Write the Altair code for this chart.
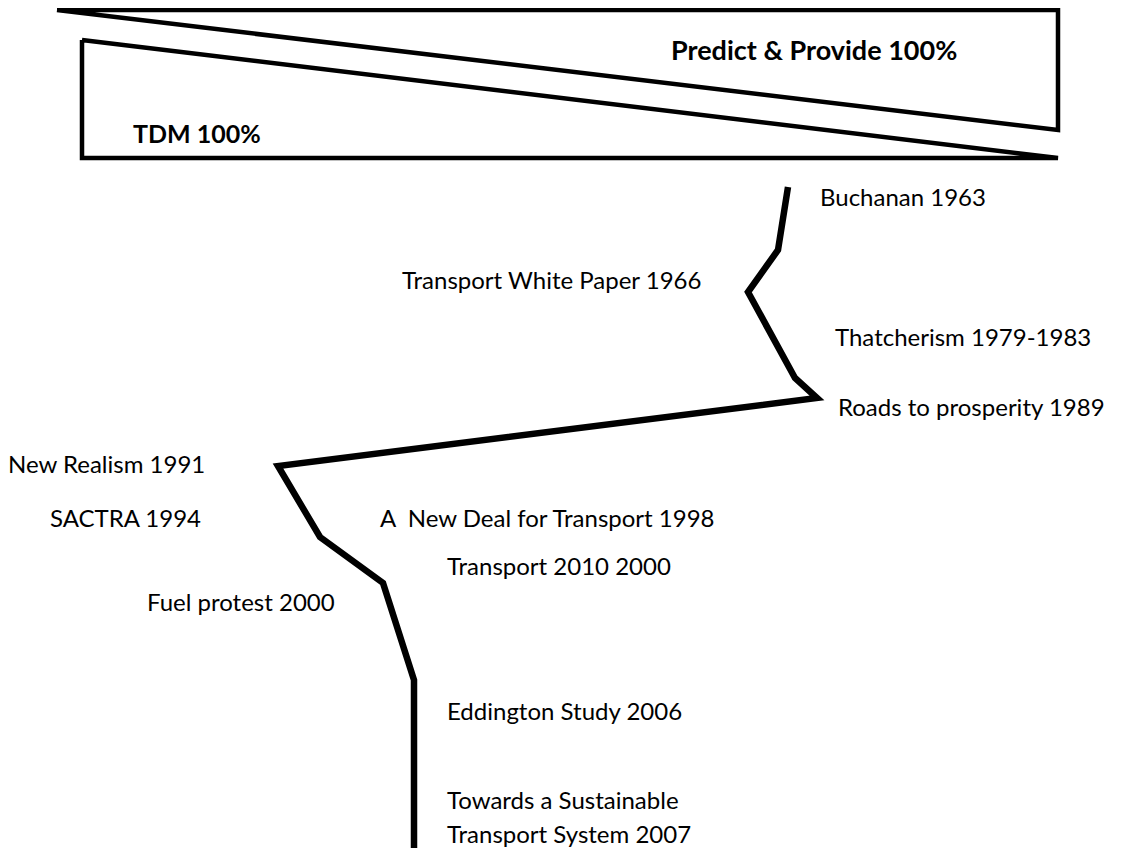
import altair as alt
import pandas as pd

# picture coordinates (pixels of the reference)
upper_x = [57, 1058, 1058, 57]
upper_y = [10, 10, 130, 10]
lower_x = [82, 82, 1058, 82]
lower_y = [40, 158, 158, 40]

path_x = [788, 778, 748, 795, 817, 278, 320, 383, 414, 414]
path_y = [187, 250, 292, 378, 398, 466, 537, 583, 680, 856]

bold_labels = ["Predict & Provide 100%", "TDM 100%"]
bold_x = [671, 133]
bold_y = [52, 135]

labels = ["Buchanan 1963", "Transport White Paper 1966", "Thatcherism 1979-1983",
          "Roads to prosperity 1989", "New Realism 1991", "SACTRA 1994",
          "A \u00a0New Deal for Transport 1998", "Transport 2010 2000", "Fuel protest 2000",
          "Eddington Study 2006", "Towards a Sustainable", "Transport System 2007"]
label_x = [820, 402, 835, 838, 8, 50, 380, 447, 147, 447, 447, 447]
label_y = [199, 282, 339, 409, 466, 520, 520, 568, 604, 713, 802, 836]

W, H = 1110, 840
xs = alt.Scale(domain=[8, 8 + W], nice=False, zero=False)
ys = alt.Scale(domain=[8, 8 + H], nice=False, zero=False, reverse=True)

shapes = pd.DataFrame({
    "x": upper_x + lower_x,
    "y": upper_y + lower_y,
    "shape": ["upper"] * 4 + ["lower"] * 4,
    "i": list(range(4)) * 2,
})
path = pd.DataFrame({"x": path_x, "y": path_y, "i": range(len(path_x))})
bold = pd.DataFrame({"t": bold_labels, "x": bold_x, "y": bold_y})
lab = pd.DataFrame({"t": labels, "x": label_x, "y": label_y})

X = lambda: alt.X("x:Q", scale=xs, axis=None)
Y = lambda: alt.Y("y:Q", scale=ys, axis=None)

tri = alt.Chart(shapes).mark_line(color="black", strokeWidth=4.5, strokeJoin="miter", clip=False).encode(
    x=X(), y=Y(), detail="shape:N", order="i:Q")
line = alt.Chart(path).mark_line(color="black", strokeWidth=6.5, strokeJoin="miter", clip=False).encode(
    x=X(), y=Y(), order="i:Q")
btxt1 = alt.Chart(bold.iloc[[0]]).mark_text(align="left", baseline="middle", font="Lato", fontSize=27,
                                            fontWeight="bold", color="black").encode(x=X(), y=Y(), text="t:N")
btxt2 = alt.Chart(bold.iloc[[1]]).mark_text(align="left", baseline="middle", font="Lato", fontSize=25,
                                            fontWeight="bold", color="black").encode(x=X(), y=Y(), text="t:N")
txt = alt.Chart(lab).mark_text(align="left", baseline="middle", font="Lato", fontSize=24,
                               color="black").encode(x=X(), y=Y(), text="t:N")

chart = alt.layer(tri, line, btxt1, btxt2, txt).properties(
    width=W, height=H, padding=0, autosize=alt.AutoSizeParams(type="none")
).configure_view(stroke=None)

chart.save("out.html", embed_options={"renderer": "svg", "actions": False})
